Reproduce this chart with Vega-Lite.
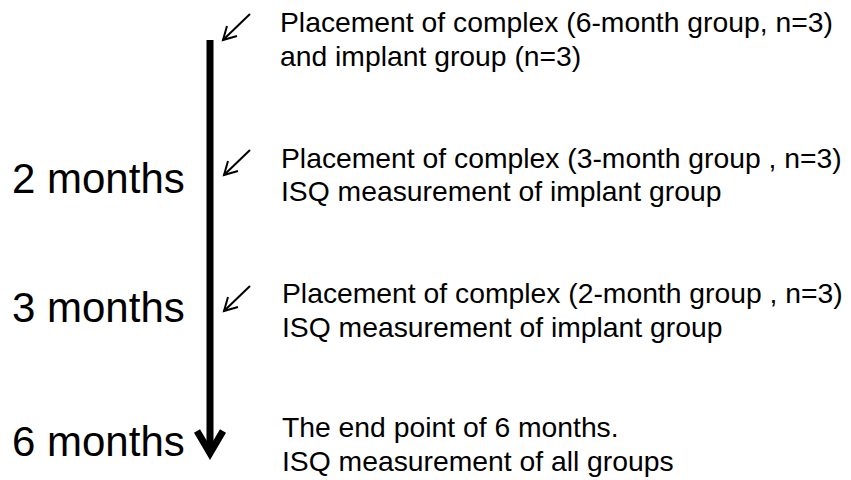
{
  "$schema": "https://vega.github.io/schema/vega-lite/v6.json",
  "width": 851,
  "height": 480,
  "autosize": {"type": "none"},
  "padding": 0,
  "background": "white",
  "config": {"view": {"stroke": null}},
  "datasets": {
    "labels": [
      {"text": "2 months", "x": 12, "y": 193},
      {"text": "3 months", "x": 12, "y": 322},
      {"text": "6 months", "x": 12, "y": 456}
    ],
    "notes": [
      {"text": "Placement of complex (6-month group, n=3)", "x": 280, "y": 32},
      {"text": "and implant group (n=3)", "x": 280, "y": 66},
      {"text": "Placement of complex (3-month group , n=3)", "x": 281, "y": 168},
      {"text": "ISQ measurement of implant group", "x": 281, "y": 201},
      {"text": "Placement of complex (2-month group , n=3)", "x": 282, "y": 303},
      {"text": "ISQ measurement of implant group", "x": 282, "y": 337},
      {"text": "The end point of 6 months.", "x": 282, "y": 437},
      {"text": "ISQ measurement of all groups", "x": 282, "y": 471}
    ],
    "shaft": [
      {"x": 210, "y": 40, "y2": 452}
    ],
    "head": [
      {"seg": "h", "o": 0, "x": 197, "y": 431},
      {"seg": "h", "o": 1, "x": 210, "y": 453},
      {"seg": "h", "o": 2, "x": 223, "y": 431}
    ],
    "arrows": [
      {"seg": "a1s", "o": 0, "x": 250, "y": 14},
      {"seg": "a1s", "o": 1, "x": 223, "y": 40},
      {"seg": "a1h", "o": 0, "x": 227, "y": 26},
      {"seg": "a1h", "o": 1, "x": 223, "y": 40},
      {"seg": "a1h", "o": 2, "x": 237, "y": 36},
      {"seg": "a2s", "o": 0, "x": 250, "y": 150},
      {"seg": "a2s", "o": 1, "x": 224, "y": 175},
      {"seg": "a2h", "o": 0, "x": 228, "y": 161},
      {"seg": "a2h", "o": 1, "x": 224, "y": 175},
      {"seg": "a2h", "o": 2, "x": 238, "y": 171},
      {"seg": "a3s", "o": 0, "x": 250, "y": 286},
      {"seg": "a3s", "o": 1, "x": 224, "y": 311},
      {"seg": "a3h", "o": 0, "x": 228, "y": 297},
      {"seg": "a3h", "o": 1, "x": 224, "y": 311},
      {"seg": "a3h", "o": 2, "x": 238, "y": 307}
    ]
  },
  "encoding": {
    "x": {"field": "x", "type": "quantitative", "scale": {"domain": [0, 851], "nice": false, "zero": false}, "axis": null},
    "y": {"field": "y", "type": "quantitative", "scale": {"domain": [0, 480], "reverse": true, "nice": false, "zero": false}, "axis": null}
  },
  "layer": [
    {
      "data": {"name": "shaft"},
      "mark": {"type": "rule", "strokeWidth": 7, "color": "black", "strokeCap": "butt"},
      "encoding": {"y2": {"field": "y2"}}
    },
    {
      "data": {"name": "head"},
      "mark": {"type": "line", "strokeWidth": 7, "color": "black", "strokeJoin": "miter", "strokeCap": "butt", "strokeMiterLimit": 10},
      "encoding": {"detail": {"field": "seg"}, "order": {"field": "o"}}
    },
    {
      "data": {"name": "arrows"},
      "mark": {"type": "line", "strokeWidth": 2, "color": "black", "strokeJoin": "miter", "strokeCap": "butt", "strokeMiterLimit": 10},
      "encoding": {"detail": {"field": "seg"}, "order": {"field": "o"}}
    },
    {
      "data": {"name": "labels"},
      "mark": {"type": "text", "align": "left", "baseline": "alphabetic", "font": "Liberation Sans", "fontSize": 42, "color": "black"},
      "encoding": {"text": {"field": "text"}}
    },
    {
      "data": {"name": "notes"},
      "mark": {"type": "text", "align": "left", "baseline": "alphabetic", "font": "Liberation Sans", "fontSize": 28.3, "color": "black"},
      "encoding": {"text": {"field": "text"}}
    }
  ]
}
